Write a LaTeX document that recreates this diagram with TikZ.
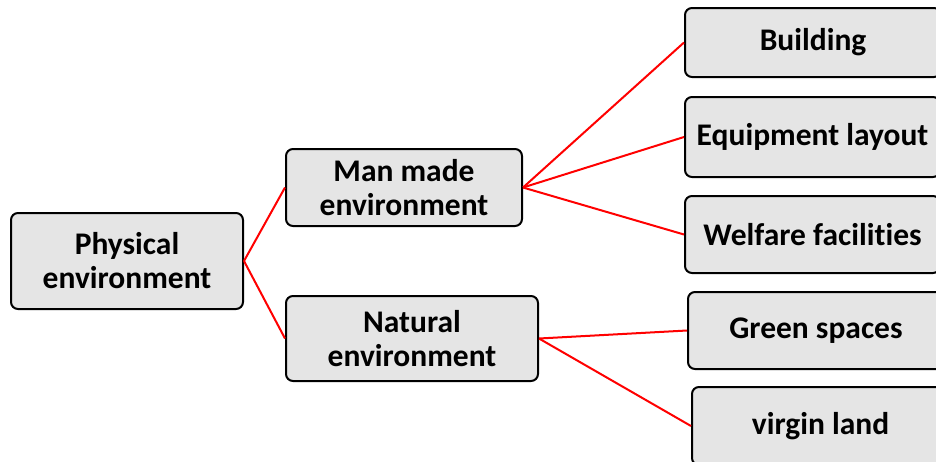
\documentclass[tikz,border=0pt]{standalone}
\usepackage{fontspec}
\setmainfont{Carlito}[Ligatures=NoCommon]
\begin{document}
\begin{tikzpicture}[x=1pt,y=-1pt,
  box/.style={draw=black, line width=2pt, fill=black!10, rounded corners=7pt,
    inner sep=0pt, align=center, font=\fontsize{31.5}{34}\selectfont\bfseries},
  link/.style={draw=red, line width=2pt}]
\useasboundingbox (0,0) rectangle (936,461);
\clip (0,0) rectangle (936,461);
\node[box, minimum width=232pt, minimum height=96pt] (phys) at (127,261) {Physical\\environment};
\node[box, minimum width=236pt, minimum height=77pt] (man) at (404,187.5) {Man made\\environment};
\node[box, minimum width=252pt, minimum height=85pt] (nat) at (412,338.5) {Natural\\environment};
\node[box, minimum width=256pt, minimum height=69pt] (bld) at (813,42.5) {Building};
\node[box, minimum width=255pt, minimum height=80pt] (equ) at (812.5,137) {Equipment layout};
\node[box, minimum width=255pt, minimum height=77pt] (wel) at (812.5,234.5) {Welfare facilities};
\node[box, minimum width=256pt, minimum height=77pt] (grn) at (816,330.5) {Green spaces};
\node[box, minimum width=257pt, minimum height=78pt] (vir) at (820.5,426) {virgin land};
\draw[link] (phys.east) -- (man.west);
\draw[link] (phys.east) -- (nat.west);
\draw[link] (man.east) -- (bld.west);
\draw[link] (man.east) -- (equ.west);
\draw[link] (man.east) -- (wel.west);
\draw[link] (nat.east) -- (grn.west);
\draw[link] (nat.east) -- (vir.west);
\end{tikzpicture}
\end{document}
